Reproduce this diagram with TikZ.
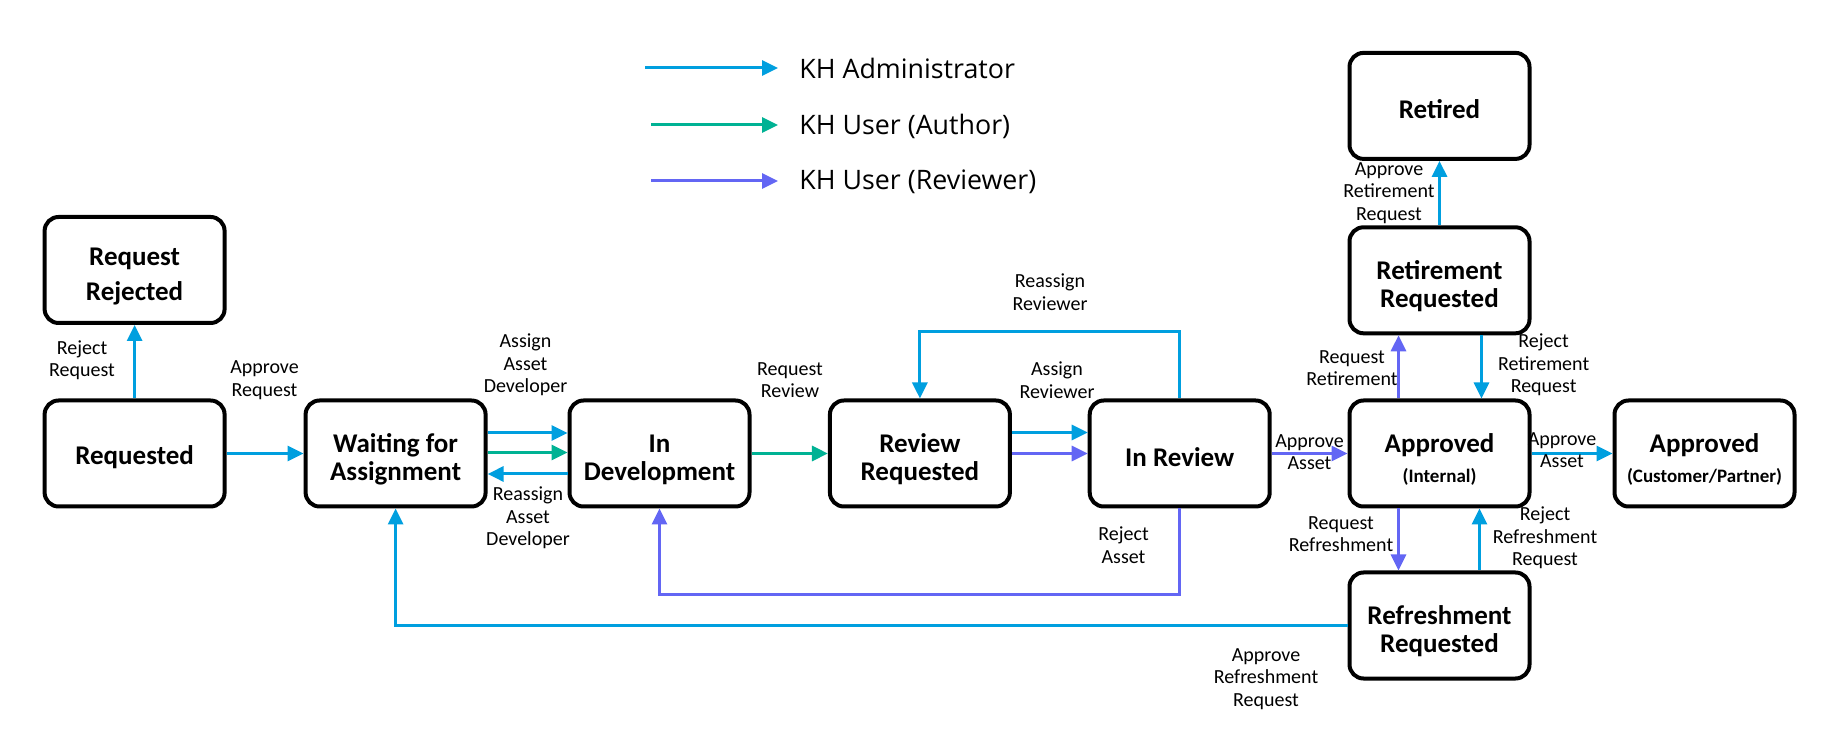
\documentclass[tikz,border=0pt]{standalone}
\usepackage{fontspec}
\setmainfont{Carlito}
\newfontfamily\legendfont{Open Sans}
\usetikzlibrary{arrows.meta}
\definecolor{admin}{HTML}{009FDF}
\definecolor{author}{HTML}{00B294}
\definecolor{reviewer}{HTML}{6366F4}
\newcommand{\tallstrut}{\rule{0pt}{15pt}}
\newcommand{\onestrut}{\rule{0pt}{13pt}}
\begin{document}
\begin{tikzpicture}[x=0.5pt,y=-0.5pt,
  state/.style={draw=black, line width=2pt, rounded corners=7pt, minimum width=90pt, minimum height=53pt, align=center, font=\fontsize{13.5}{14}\selectfont\bfseries, inner sep=0pt},
  lbl/.style={align=center, font=\fontsize{10}{11.2}\selectfont, inner sep=0pt},
  legtext/.style={anchor=west, font=\legendfont\fontsize{13.4}{15}\selectfont, inner sep=0pt},
  flow/.style={line width=1.5pt, -{Triangle[length=8pt,width=7.5pt]}},
  adm/.style={flow, draw=admin},
  aut/.style={flow, draw=author},
  rvw/.style={flow, draw=reviewer}]
\useasboundingbox (0,0) rectangle (1835,747);
\fill[white] (0,0) rectangle (1835,747);

% legend
\coordinate (l1a) at (645,68);  \coordinate (l1b) at (778,68);
\coordinate (l2a) at (651,125); \coordinate (l2b) at (778,125);
\coordinate (l3a) at (651,181); \coordinate (l3b) at (778,181);
\draw[adm] (l1a) -- (l1b);
\draw[aut] (l2a) -- (l2b);
\draw[rvw] (l3a) -- (l3b);
\node[legtext] (t1) at (799,68) {KH Administrator};
\node[legtext] (t2) at (799,126) {KH User (Author)};
\node[legtext] (t3) at (799,182) {KH User (Reviewer)};

% states
\node[state] (rej) at (134.6,270) {\tallstrut Request\\[3.5pt]Rejected};
\node[state] (req) at (134.6,453.5) {\onestrut Requested};
\node[state] (wait) at (395.6,453.5) {\tallstrut Waiting for\\Assignment};
\node[state] (dev) at (659.5,453.5) {\tallstrut In\\Development};
\node[state] (rr) at (919.9,453.5) {\tallstrut Review\\Requested};
\node[state] (inr) at (1179.7,453.5) {\onestrut In Review};
\node[state] (appi) at (1439.5,453.5) {\tallstrut Approved\\[1pt]{\fontsize{9.5}{11}\selectfont(Internal)}};
\node[state] (appc) at (1704.5,453.5) {\tallstrut Approved\\[1pt]{\fontsize{9.5}{11}\selectfont(Customer/Partner)}};
\node[state] (ret) at (1439.5,105.9) {\onestrut Retired};
\node[state] (retr) at (1439.5,280.3) {\tallstrut Retirement\\Requested};
\node[state] (refr) at (1439.5,625.5) {\tallstrut Refreshment\\Requested};

% helper coordinates
\coordinate (loopy) at (0,332);
\coordinate (rejy) at (0,594.5);

% connectors
\draw[adm] (req.north) -- (rej.south);
\draw[adm] (req.east) -- (wait.west);
\draw[adm] ([yshift=10.25pt]wait.east) -- ([yshift=10.25pt]dev.west);
\draw[aut] ([yshift=0.5pt]wait.east) -- ([yshift=0.5pt]dev.west);
\draw[adm] ([yshift=-10.25pt]dev.west) -- ([yshift=-10.25pt]wait.east);
\draw[aut] (dev.east) -- (rr.west);
\draw[adm] ([yshift=10.5pt]rr.east) -- ([yshift=10.5pt]inr.west);
\draw[rvw] (rr.east) -- (inr.west);
\draw[adm] (inr.north) -- (inr.north |- loopy) -| (rr.north);
\draw[rvw] (inr.south) -- (inr.south |- rejy) -| (dev.south);
\draw[adm] (refr.west) -| (wait.south);
\draw[rvw] (inr.east) -- (appi.west);
\draw[adm] (appi.east) -- (appc.west);
\draw[rvw] ([xshift=-20.5pt]appi.north) -- ([xshift=-20.5pt]retr.south);
\draw[adm] ([xshift=21pt]retr.south) -- ([xshift=21pt]appi.north);
\draw[adm] (retr.north) -- (ret.south);
\draw[rvw] ([xshift=-20.5pt]appi.south) -- ([xshift=-20.5pt]refr.north);
\draw[adm] ([xshift=20pt]refr.north) -- ([xshift=20pt]appi.south);

% labels
\node[lbl] (a1) at (82,360) {Reject\\Request};
\node[lbl] (a2) at (264.5,380) {Approve\\Request};
\node[lbl] (a3) at (525.5,365) {Assign\\Asset\\Developer};
\node[lbl] (a4) at (528,518) {Reassign\\Asset\\Developer};
\node[lbl] (a5) at (790,380) {Request\\Review};
\node[lbl] (a6) at (1057,380) {Assign\\Reviewer};
\node[lbl] (a7) at (1050,292) {Reassign\\Reviewer};
\node[lbl] (a8) at (1123.5,545) {Reject\\Asset};
\node[lbl] (a9) at (1266,679) {Approve\\Refreshment\\Request};
\node[lbl] (a10) at (1309.5,452) {Approve\\Asset};
\node[lbl] (a11) at (1562,450) {Approve\\Asset};
\node[lbl] (a12) at (1352,368) {Request\\Retirement};
\node[lbl] (a13) at (1543.6,365) {Reject\\Retirement\\Request};
\node[lbl] (a14) at (1389,193) {Approve\\Retirement\\Request};
\node[lbl] (a15) at (1341,534) {Request\\Refreshment};
\node[lbl] (a16) at (1545,538) {Reject\\Refreshment\\Request};
\end{tikzpicture}
\end{document}
